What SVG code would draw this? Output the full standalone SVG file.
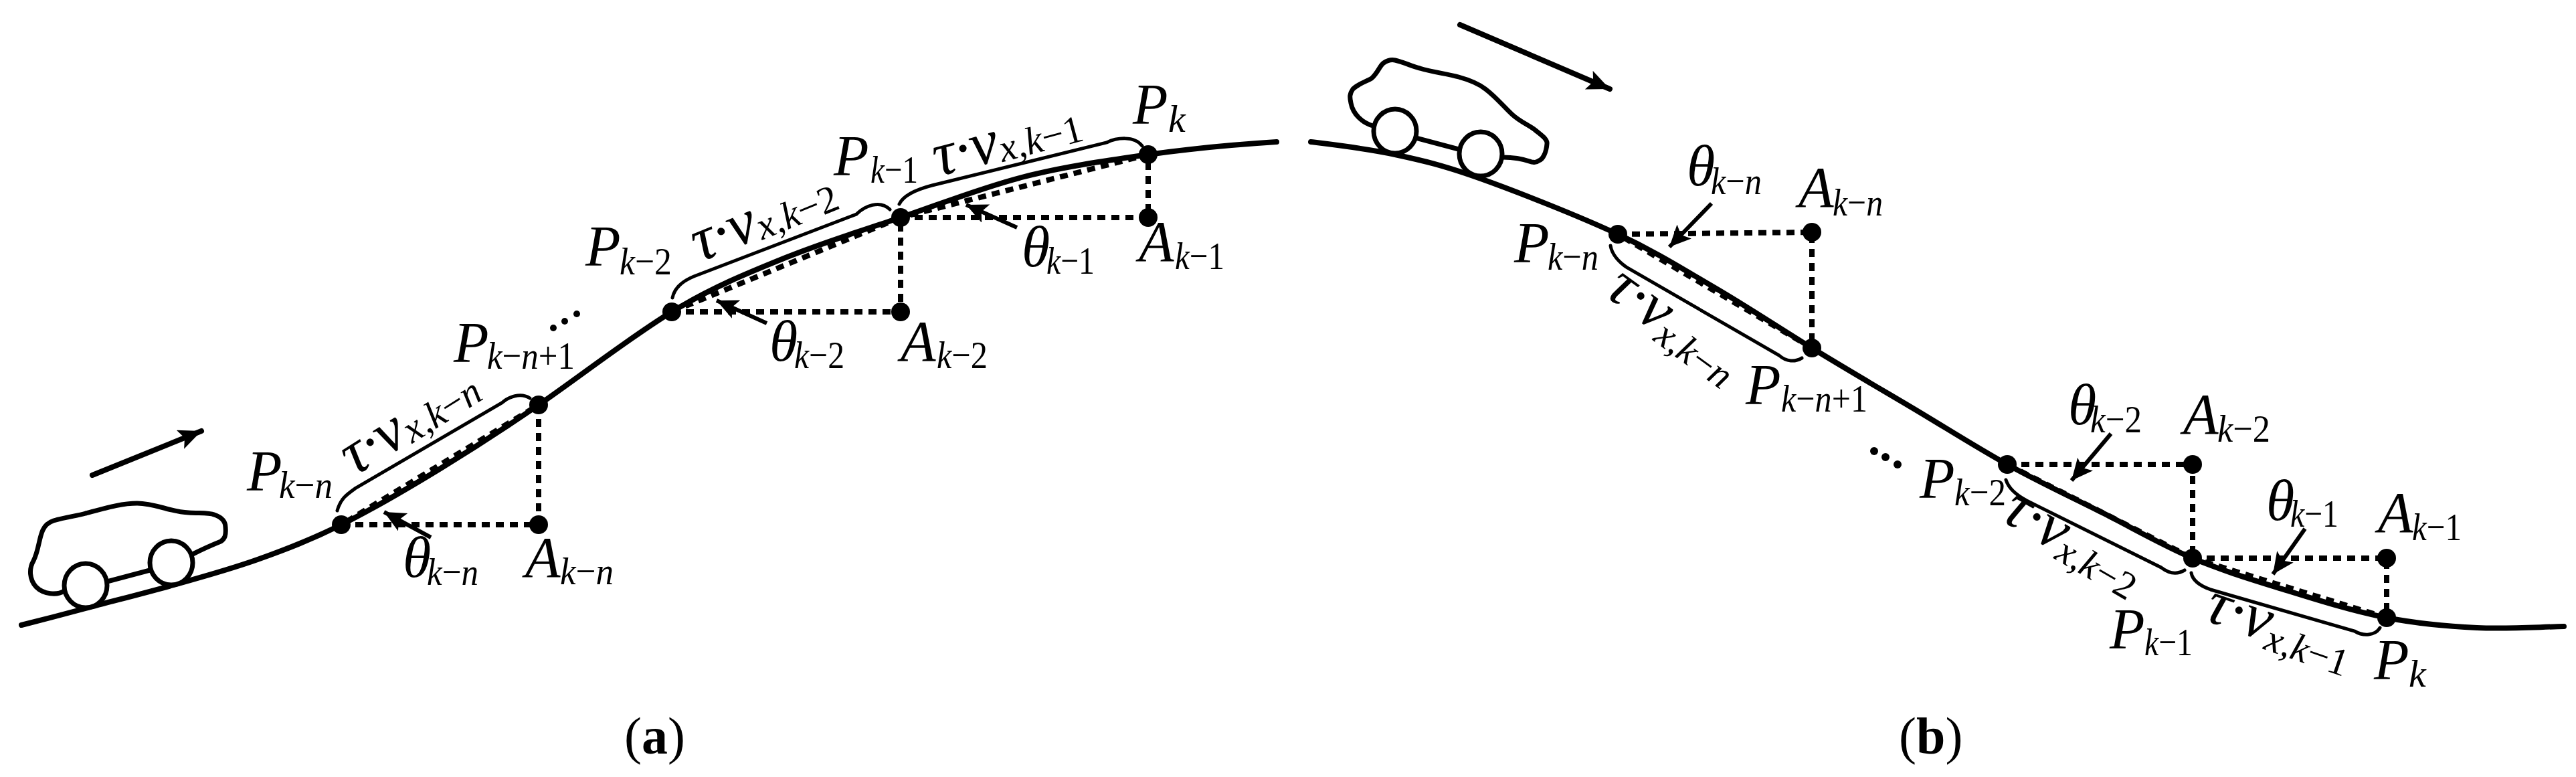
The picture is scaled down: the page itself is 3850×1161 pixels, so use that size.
<svg xmlns="http://www.w3.org/2000/svg" width="3850" height="1161" viewBox="0 0 3850 1161">
<style>
text{font-family:"Liberation Serif","Times New Roman",serif;fill:#000}
.m{font-style:italic;font-size:86px}
.r{font-style:italic;font-size:94px}
.s{font-style:italic;font-size:58px}
.u{font-style:normal}
.cap{font-size:78px}
.road{fill:none;stroke:#000;stroke-width:8;stroke-linecap:round}
.dash{fill:none;stroke:#000;stroke-width:8;stroke-dasharray:12 9}
.brace{fill:none;stroke:#000;stroke-width:5;stroke-linecap:round}
.car{fill:none;stroke:#000;stroke-width:7;stroke-linecap:round}
.wheel{fill:#fff;stroke:#000;stroke-width:7}
.ptr{fill:none;stroke:#000;stroke-width:6;marker-end:url(#head)}
.big{fill:none;stroke:#000;stroke-width:8;stroke-linecap:round;marker-end:url(#bighead)}
</style>
<defs>
<marker id="head" markerUnits="userSpaceOnUse" markerWidth="40" markerHeight="36" refX="32" refY="15" orient="auto"><path d="M0 0L32 15L0 30L7 15Z"/></marker>
<marker id="bighead" markerUnits="userSpaceOnUse" markerWidth="40" markerHeight="36" refX="34" refY="15" orient="auto"><path d="M0 0L34 15L0 30L7 15Z"/></marker>
</defs>
<g id="connectors">
<path class="road" d="M32 934C64 926 91 919 128 909C165 899 213 887 256 875C299 863 343 851 385 836C427 821 464 807 510 784C556 761 611 729 660 699C709 669 748 644 805 605C862 566 943 503 1004 466C1065 429 1117 408 1174 385C1231 362 1287 345 1346 325C1405 305 1465 281 1527 265C1589 249 1653 240 1716 231C1779 222 1845 216 1908 212"/>
<path class="road" d="M1959 212C2000 217 2043 222 2085 231C2127 240 2157 247 2213 267C2269 287 2360 323 2418 350C2476 377 2515 402 2563 430C2611 458 2659 490 2708 520C2757 550 2805 578 2854 607C2903 636 2953 668 3000 694C3047 720 3092 741 3138 764C3184 787 3230 814 3277 834C3324 854 3372 868 3420 883C3468 898 3520 914 3567 923C3614 932 3658 936 3702 938C3746 940 3790 937 3832 936"/>
<path class="dash" d="M510 784H805V605L510 784"/>
<path class="dash" d="M1004 466H1346V325L1004 466"/>
<path class="dash" d="M1346 325H1716V231L1346 325"/>
<path class="dash" d="M2418 350L2708 347V520L2418 350"/>
<path class="dash" d="M3000 694H3277V834L3000 694"/>
<path class="dash" d="M3277 834H3567V923L3277 834"/>
<path class="brace" d="M504 763C509 745 518 739 532 729L750 602C760 593 778 586 792 595"/>
<path class="brace" d="M1005 445C1008 430 1020 420 1037 413L1280 320C1292 308 1315 298 1330 313"/>
<path class="brace" d="M1344 305C1350 292 1370 283 1393 277L1654 213C1668 206 1695 202 1707 218"/>
<path class="brace" d="M2407 367C2409 380 2420 392 2432 400L2659 531C2670 541 2683 541 2693 535"/>
<path class="brace" d="M2998 717C3002 730 3016 741 3029 748L3230 848C3243 858 3255 858 3265 852"/>
<path class="brace" d="M3275 856C3277 868 3290 876 3304 881L3519 943C3532 951 3550 950 3557 938"/>
<path class="ptr" d="M644 803L574 765"/>
<path class="ptr" d="M1146 483L1071 449"/>
<path class="ptr" d="M1520 340L1444 306"/>
<path class="ptr" d="M2558 304L2495 369"/>
<path class="ptr" d="M3155 648L3096 718"/>
<path class="ptr" d="M3445 790L3397 858"/>
<path class="big" d="M138 710L301 644"/>
<path class="big" d="M2182 37L2406 133"/>
</g>
<g id="car-a">
<path class="car" d="M96 883C85 890 65 888 54 877C44 866 43 850 50 838C58 822 58 805 64 792C68 783 74 780 80 778C100 772 115 771 128 767C155 760 180 752 205 752C232 752 255 765 282 766C300 767 313 766 320 769C332 773 337 780 337 788C338 800 336 805 330 809C315 815 300 822 288 828"/>
<path class="car" d="M160 869L224 852"/>
<ellipse class="wheel" cx="128" cy="875" rx="32" ry="33"/>
<ellipse class="wheel" cx="256" cy="841" rx="32" ry="33"/>
</g>
<g id="car-b">
<path class="car" d="M2052 188C2035 183 2022 170 2019 154C2017 145 2017 140 2022 133C2030 125 2042 122 2050 117C2060 108 2062 98 2068 94C2074 90 2080 89 2085 90C2098 93 2110 99 2122 102C2142 108 2162 110 2180 115C2198 120 2210 125 2220 133C2236 145 2248 160 2260 171C2272 182 2285 187 2294 194C2305 203 2313 208 2312 215C2311 228 2306 238 2300 240C2295 244 2292 242 2289 242C2275 237 2260 235 2246 235"/>
<path class="car" d="M2116 206L2180 223"/>
<ellipse class="wheel" cx="2085" cy="196" rx="32" ry="33"/>
<ellipse class="wheel" cx="2213" cy="230" rx="32" ry="33"/>
</g>
<g id="points">
<circle cx="510" cy="784" r="14"/><circle cx="805" cy="784" r="14"/><circle cx="805" cy="605" r="14"/>
<circle cx="1004" cy="466" r="14"/><circle cx="1346" cy="466" r="14"/><circle cx="1346" cy="325" r="14"/>
<circle cx="1716" cy="325" r="14"/><circle cx="1716" cy="231" r="14"/>
<circle cx="2418" cy="350" r="14"/><circle cx="2708" cy="347" r="14"/><circle cx="2708" cy="520" r="14"/>
<circle cx="3000" cy="694" r="14"/><circle cx="3277" cy="694" r="14"/><circle cx="3277" cy="834" r="14"/>
<circle cx="3567" cy="834" r="14"/><circle cx="3567" cy="923" r="14"/>
</g>
<g id="ellipsis">
<circle cx="827" cy="490" r="5"/><circle cx="844" cy="480" r="5"/><circle cx="862" cy="469" r="5"/>
<circle cx="2801" cy="674" r="6"/><circle cx="2818" cy="683" r="6"/><circle cx="2836" cy="694" r="6"/>
</g>
<g id="labels-a">
<text class="m" x="369" y="733">P</text><text class="s" x="417" y="744" textLength="80" lengthAdjust="spacingAndGlyphs">k<tspan class="u">−</tspan>n</text>
<text class="m" x="678" y="541">P</text><text class="s" x="728" y="551" textLength="131" lengthAdjust="spacingAndGlyphs">k<tspan class="u">−</tspan>n<tspan class="u">+1</tspan></text>
<text class="m" x="602" y="862">θ</text><text class="s" x="638" y="874" textLength="77" lengthAdjust="spacingAndGlyphs">k<tspan class="u">−</tspan>n</text>
<text class="m" x="785" y="862">A</text><text class="s" x="837" y="873" textLength="80" lengthAdjust="spacingAndGlyphs">k<tspan class="u">−</tspan>n</text>
<text class="m" x="875" y="397">P</text><text class="s" x="926" y="410" textLength="78" lengthAdjust="spacingAndGlyphs">k<tspan class="u">−2</tspan></text>
<text class="m" x="1246" y="262">P</text><text class="s" x="1301" y="273" textLength="71" lengthAdjust="spacingAndGlyphs">k<tspan class="u">−1</tspan></text>
<text class="m" x="1693" y="185">P</text><text class="s" x="1746" y="197">k</text>
<text class="m" x="1150" y="539">θ</text><text class="s" x="1187" y="550" textLength="75" lengthAdjust="spacingAndGlyphs">k<tspan class="u">−2</tspan></text>
<text class="m" x="1346" y="539">A</text><text class="s" x="1400" y="550" textLength="76" lengthAdjust="spacingAndGlyphs">k<tspan class="u">−2</tspan></text>
<text class="m" x="1527" y="398">θ</text><text class="s" x="1564" y="409" textLength="72" lengthAdjust="spacingAndGlyphs">k<tspan class="u">−1</tspan></text>
<text class="m" x="1702" y="390">A</text><text class="s" x="1756" y="402" textLength="74" lengthAdjust="spacingAndGlyphs">k<tspan class="u">−1</tspan></text>
<text class="r" transform="translate(530 712) rotate(-32)">τ·v<tspan class="s" dy="4">x,k<tspan class="u">−</tspan>n</tspan></text>
<text class="r" transform="translate(1046 392) rotate(-22)">τ·v<tspan class="s" dy="4">x,k<tspan class="u">−2</tspan></tspan></text>
<text class="r" transform="translate(1402 264) rotate(-15)">τ·v<tspan class="s" dy="4">x,k<tspan class="u">−1</tspan></tspan></text>
<text class="cap" x="933" y="1126">(<tspan font-weight="bold">a</tspan>)</text>
</g>
<g id="labels-b">
<text class="m" x="2521" y="277">θ</text><text class="s" x="2557" y="290" textLength="76" lengthAdjust="spacingAndGlyphs">k<tspan class="u">−</tspan>n</text>
<text class="m" x="2688" y="309">A</text><text class="s" x="2739" y="322" textLength="75" lengthAdjust="spacingAndGlyphs">k<tspan class="u">−</tspan>n</text>
<text class="m" x="2263" y="392">P</text><text class="s" x="2313" y="403" textLength="76" lengthAdjust="spacingAndGlyphs">k<tspan class="u">−</tspan>n</text>
<text class="m" x="2609" y="604">P</text><text class="s" x="2662" y="615" textLength="129" lengthAdjust="spacingAndGlyphs">k<tspan class="u">−</tspan>n<tspan class="u">+1</tspan></text>
<text class="m" x="3091" y="634">θ</text><text class="s" x="3124" y="646" textLength="77" lengthAdjust="spacingAndGlyphs">k<tspan class="u">−2</tspan></text>
<text class="m" x="3263" y="648">A</text><text class="s" x="3314" y="660" textLength="79" lengthAdjust="spacingAndGlyphs">k<tspan class="u">−2</tspan></text>
<text class="m" x="2869" y="744">P</text><text class="s" x="2921" y="755" textLength="77" lengthAdjust="spacingAndGlyphs">k<tspan class="u">−2</tspan></text>
<text class="m" x="3387" y="777">θ</text><text class="s" x="3423" y="787" textLength="72" lengthAdjust="spacingAndGlyphs">k<tspan class="u">−1</tspan></text>
<text class="m" x="3554" y="795">A</text><text class="s" x="3605" y="807" textLength="74" lengthAdjust="spacingAndGlyphs">k<tspan class="u">−1</tspan></text>
<text class="m" x="3153" y="969">P</text><text class="s" x="3205" y="979" textLength="72" lengthAdjust="spacingAndGlyphs">k<tspan class="u">−1</tspan></text>
<text class="m" x="3548" y="1015">P</text><text class="s" x="3600" y="1026">k</text>
<text class="r" transform="translate(2396 440) rotate(36)">τ·v<tspan class="s" dy="12">x,k<tspan class="u">−</tspan>n</tspan></text>
<text class="r" transform="translate(2988 776) rotate(30)">τ·v<tspan class="s" dy="10">x,k<tspan class="u">−2</tspan></tspan></text>
<text class="r" transform="translate(3292 926) rotate(19)">τ·v<tspan class="s" dy="12">x,k<tspan class="u">−1</tspan></tspan></text>
<text class="cap" x="2838" y="1126">(<tspan font-weight="bold">b</tspan>)</text>
</g>
</svg>
